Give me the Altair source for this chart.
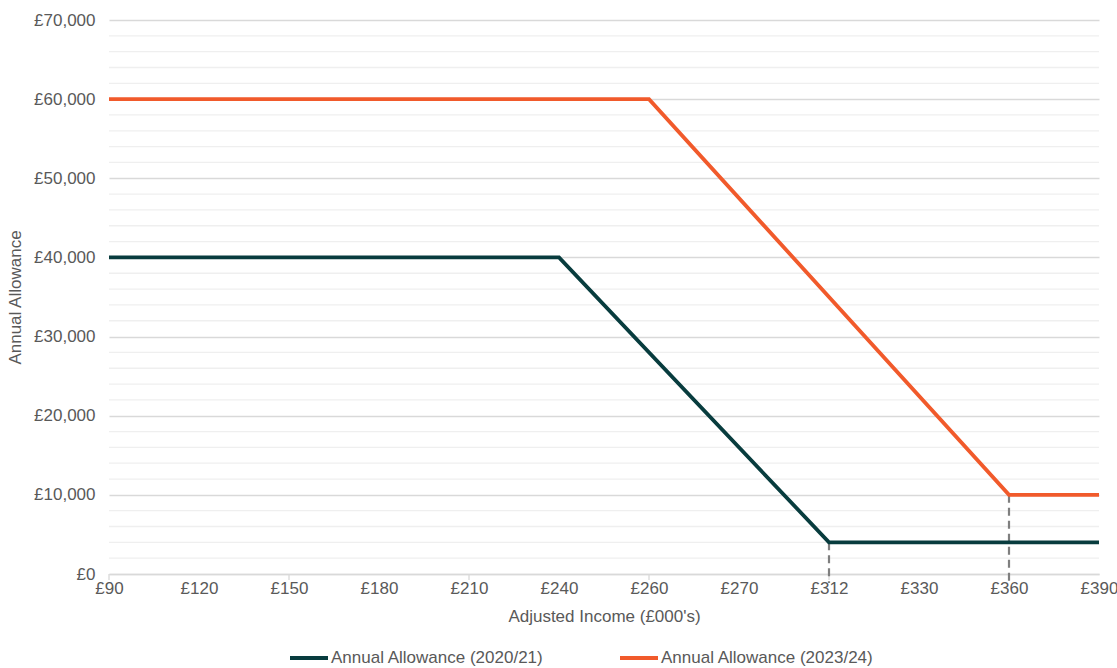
import altair as alt
import pandas as pd

# Category axis (adjusted income, £000's)
x_labels = ["£90", "£120", "£150", "£180", "£210", "£240", "£260", "£270", "£312", "£330", "£360", "£390"]

# Series (kink points of each taper)
series_2020 = "Annual Allowance (2020/21)"
x_2020 = ["£90", "£240", "£312", "£390"]
y_2020 = [40000, 40000, 4000, 4000]

series_2023 = "Annual Allowance (2023/24)"
x_2023 = ["£90", "£260", "£360", "£390"]
y_2023 = [60000, 60000, 10000, 10000]

# Drop lines to axis
drop_x = ["£312", "£360"]
drop_y = [4000, 10000]

# Axis tick categories
tick_x = x_labels[::2]

FONT = "Liberation Sans"
TXT = "#595959"
GREEN = "#083C3E"
ORANGE = "#F15A2B"

lines_df = pd.DataFrame({
    "income": x_2020 + x_2023,
    "allowance": y_2020 + y_2023,
    "series": [series_2020] * len(x_2020) + [series_2023] * len(x_2023),
    "order": list(range(len(x_2020))) + list(range(len(x_2023))),
})
drop_df = pd.DataFrame({"income": drop_x, "allowance": drop_y})
tick_df = pd.DataFrame({"income": tick_x})
minor_df = pd.DataFrame({"allowance": [v for v in range(2000, 70000, 2000) if v % 10000 != 0]})

xscale = alt.Scale(type="point", domain=x_labels, padding=0)
yscale = alt.Scale(domain=[0, 70000], nice=False)

xaxis = alt.Axis(
    labelAngle=0,
    ticks=False,
    grid=False,
    domainColor="#D9D9D9",
    domainWidth=1.3,
    labelPadding=6,
    titlePadding=12,
)
yaxis = alt.Axis(
    values=list(range(0, 70001, 10000)),
    labelExpr="'£' + format(datum.value, ',.0f')",
    ticks=False,
    domain=False,
    grid=True,
    gridColor="#D9D9D9",
    gridWidth=1.3,
    labelPadding=14,
    titlePadding=9,
)
XT = "Adjusted Income (£000's)"
YT = "Annual Allowance"

X = alt.X("income:O", scale=xscale, title=XT, axis=xaxis)
Y = alt.Y("allowance:Q", scale=yscale, title=YT, axis=yaxis)

minor = alt.Chart(minor_df).mark_rule(color="#EFEFEF", strokeWidth=1.3).encode(y=Y)

ticks = alt.Chart(tick_df).mark_rule(color="#D9D9D9", strokeWidth=1.3).encode(
    x=X,
    y=alt.value(554),
    y2=alt.value(560),
)

drops = alt.Chart(drop_df).mark_rule(color="#7F7F7F", strokeWidth=2.2, strokeDash=[8, 5]).encode(
    x=X,
    y=Y,
    y2=alt.value(563),
)

lines = alt.Chart(lines_df).mark_line(strokeWidth=3.8).encode(
    x=X,
    y=Y,
    color=alt.Color(
        "series:N",
        scale=alt.Scale(domain=[series_2020, series_2023], range=[GREEN, ORANGE]),
        legend=alt.Legend(
            title=None,
            orient="none",
            legendX=179,
            legendY=617,
            direction="horizontal",
            columns=2,
            columnPadding=68,
            symbolType="stroke",
            symbolSize=1444,
            symbolStrokeWidth=4,
            labelOffset=1,
            labelLimit=400,
            labelFont=FONT,
            labelFontSize=17,
            labelColor=TXT,
        ),
    ),
    order="order:Q",
)

chart = alt.layer(minor, ticks, drops, lines).properties(
    width=990,
    height=554,
    padding={"left": 109, "top": 20, "right": 18, "bottom": 94},
    autosize=alt.AutoSizeParams(type="none"),
    background="white",
).configure_axis(
    labelFont=FONT,
    labelFontSize=17,
    labelColor=TXT,
    titleFont=FONT,
    titleFontSize=17,
    titleColor=TXT,
    titleFontWeight="normal",
).configure_view(stroke=None)

chart.save("out.html", embed_options={"renderer": "svg", "actions": False})
